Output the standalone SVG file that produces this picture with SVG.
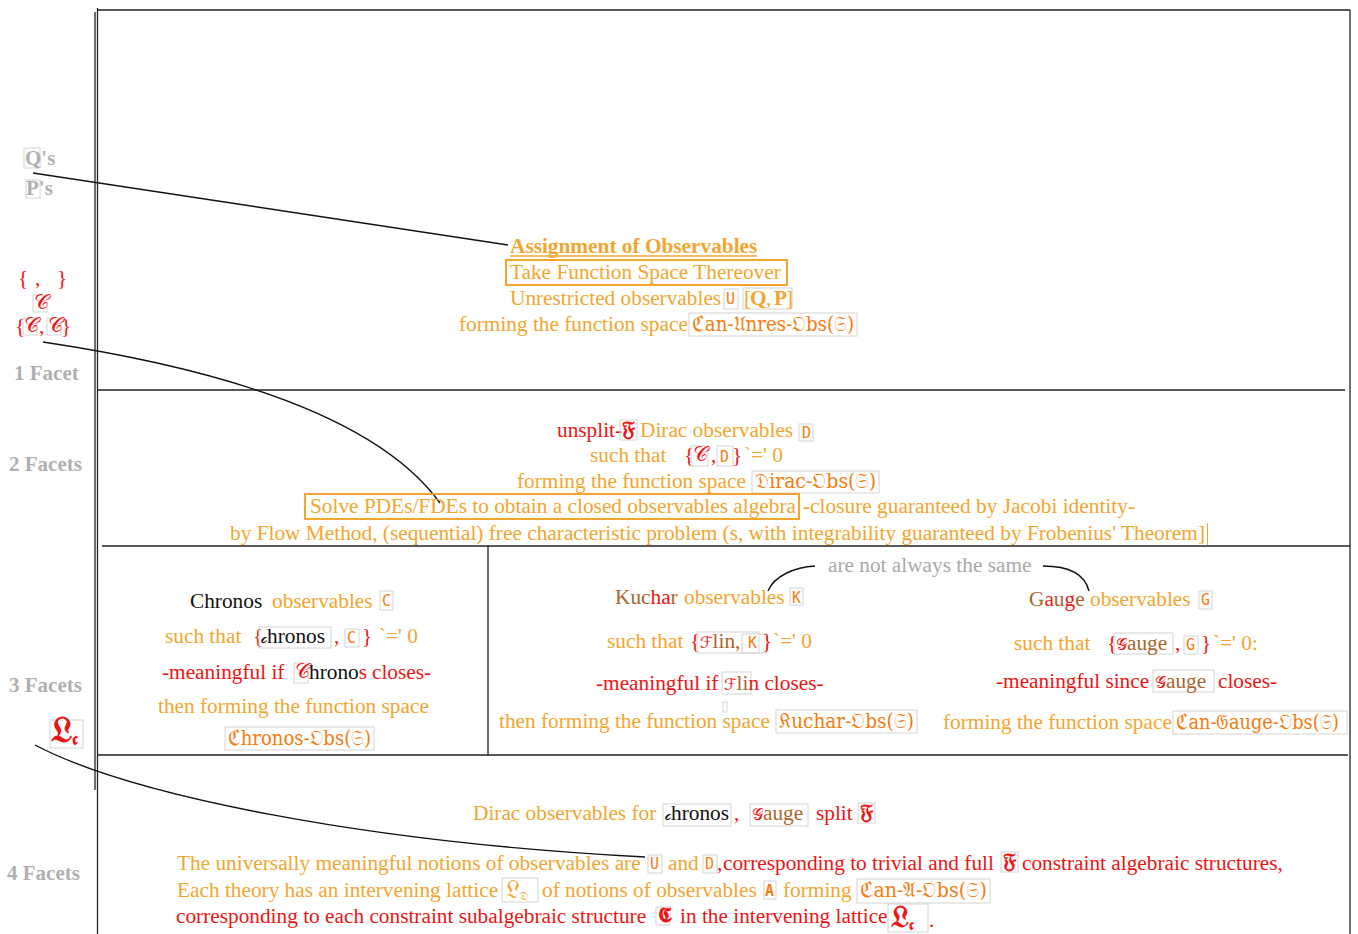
<svg xmlns="http://www.w3.org/2000/svg" width="1358" height="934" viewBox="0 0 1358 934">
<style>
text{font-family:"Liberation Serif","Times New Roman",serif;font-size:21.3px}
.o{fill:#f2a630}.r{fill:#ee1414}.k{fill:#111}.br{fill:#a8662c}.d{fill:#f47c10}.g{fill:#aaa}.gl{fill:#a9a9a9}
.lab{font-weight:bold;fill:#b0b0b0;font-size:21px}
.m{font-family:"DejaVu Sans Mono","Liberation Mono",monospace;font-size:15px;fill:#f47c10}
.fk{font-family:"DejaVu Serif","DejaVu Sans","Noto Sans",serif}
.bx{fill:none;stroke:#d4d4d4;stroke-width:1}
.obx{fill:none;stroke:#f2a630;stroke-width:2}
.fr{stroke:#222;stroke-width:1.3;fill:none}
.cn{stroke:#111;stroke-width:1.4;fill:none}
</style>
<rect width="1358" height="934" fill="#fff"/>
<g id="frame">
<line class="fr" x1="95" y1="12" x2="95" y2="790" stroke-width="2.2"/>
<line class="fr" x1="97.5" y1="8" x2="97.5" y2="934"/>
<line class="fr" x1="97" y1="10" x2="1350" y2="10"/>
<line class="fr" x1="1350" y1="10" x2="1350" y2="934"/>
<line class="fr" x1="97" y1="390" x2="1345" y2="390"/>
<line class="fr" x1="102" y1="546" x2="1350" y2="546"/>
<line class="fr" x1="488" y1="546" x2="488" y2="755"/>
<line class="fr" x1="97" y1="755" x2="1348" y2="755"/>
</g>
<g id="facet-labels">
<rect class="bx" x="24" y="148" width="16" height="20"/>
<text class="lab" x="25" y="165" font-size="20">Q's</text>
<rect class="bx" x="26" y="180" width="14" height="18"/>
<text class="lab" x="26" y="195" font-size="20">P's</text>
<text class="r" x="18" y="285">{</text><text class="r" x="35" y="285">,</text><text class="r" x="57" y="285">}</text>
<rect class="bx" x="33" y="295" width="14" height="17"/>
<text class="r fk" x="34" y="309" font-size="15">𝒞</text>
<text class="r" x="15" y="333">{</text>
<rect class="bx" x="23" y="318" width="14" height="17"/>
<text class="r fk" x="24" y="332" font-size="15">𝒞</text>
<text class="r" x="39" y="333">,</text>
<rect class="bx" x="47" y="318" width="14" height="17"/>
<text class="r fk" x="48" y="332" font-size="15">𝒞</text>
<text class="r" x="61" y="333">}</text>
<text class="lab" x="14" y="380">1 Facet</text>
<text class="lab" x="9" y="471">2 Facets</text>
<text class="lab" x="9" y="692">3 Facets</text>
<text class="lab" x="7" y="880">4 Facets</text>
<rect class="bx" x="50" y="720" width="33" height="28"/>
<text class="r fk" transform="translate(51,742) scale(1.7)" x="0" y="0" font-size="16" font-weight="bold">𝔏<tspan font-size="10" dy="2">𝖈</tspan></text>
</g>
<g id="connectors">
<line class="cn" x1="33" y1="173" x2="508" y2="245"/>
<path class="cn" d="M43,342 C230,370 380,420 440,503"/>
<path class="cn" d="M35,745 C130,795 360,842 645,857"/>
<path class="cn" d="M768,591 C774,576 795,567 815,566"/>
<path class="cn" d="M1043,566 C1070,566 1085,575 1089,591"/>
</g>
<g id="facet1">
<text class="o" x="510" y="253" font-weight="bold">Assignment of Observables</text>
<line x1="510" y1="256" x2="757" y2="256" stroke="#f2a630" stroke-width="1.5"/>
<rect class="obx" x="506" y="260" width="281" height="25"/>
<text class="o" x="510" y="279">Take Function Space Thereover</text>
<text class="o" x="510" y="305">Unrestricted observables</text>
<rect class="bx" x="724" y="289" width="14" height="20"/>
<text class="m" x="726" y="304">U</text>
<rect class="bx" x="743" y="288" width="49" height="21"/>
<text class="o" x="744" y="305">[</text>
<text class="o" x="750" y="305" font-family="Liberation Sans,Arial,sans-serif" font-weight="bold" font-size="18">Q</text>
<text class="o" x="766" y="305">,</text>
<text class="o" x="774" y="305" font-family="Liberation Sans,Arial,sans-serif" font-weight="bold" font-size="18">P</text>
<text class="o" x="786" y="305">]</text>
<text class="o" x="459" y="331">forming the function space</text>
<rect class="bx" x="689" y="313" width="168" height="23"/>
<text class="d fk" x="692" y="331" font-size="18" textLength="162" lengthAdjust="spacingAndGlyphs">ℭan-𝔘nres-𝔒bs(𝔖)</text>
</g>
<g id="facet2">
<text class="r" x="557" y="437">unsplit-</text>
<rect class="bx" x="620" y="420" width="17" height="20"/>
<text class="r fk" x="622" y="436" font-size="16" font-weight="bold">𝔉</text>
<text class="o" x="640" y="437">Dirac observables</text>
<rect class="bx" x="799" y="424" width="14" height="17"/>
<text class="m" x="802" y="438">D</text>
<text class="o" x="590" y="462">such that</text>
<text class="r" x="684" y="462">{</text>
<rect class="bx" x="691" y="446" width="17" height="20"/>
<text class="r fk" x="693" y="461" font-size="15">𝒞</text>
<text class="r" x="711" y="462">,</text>
<rect class="bx" x="717" y="446" width="16" height="20"/>
<text class="m" x="720" y="462">D</text>
<text class="r" x="732" y="462">}</text>
<text class="o" x="744" y="462">`=' 0</text>
<text class="o" x="517" y="488">forming the function space</text>
<rect class="bx" x="752" y="471" width="127" height="22"/>
<text class="d fk" x="755" y="488" font-size="18" textLength="121" lengthAdjust="spacingAndGlyphs">𝔇irac-𝔒bs(𝔖)</text>
<rect class="obx" x="305" y="494" width="494" height="25"/>
<text class="o" x="310" y="513" textLength="486" lengthAdjust="spacingAndGlyphs">Solve PDEs/FDEs to obtain a closed observables algebra</text>
<text class="o" x="803" y="513" textLength="332" lengthAdjust="spacingAndGlyphs">-closure guaranteed by Jacobi identity-</text>
<text class="o" x="230" y="540" textLength="975" lengthAdjust="spacingAndGlyphs">by Flow Method, (sequential) free characteristic problem (s, with integrability guaranteed by Frobenius' Theorem]</text>
<line x1="1207.5" y1="523" x2="1207.5" y2="545" stroke="#f2a630" stroke-width="1"/>
</g>
<g id="chronos">
<text class="k" x="190" y="608">Chronos</text>
<text class="o" x="272" y="608">observables</text>
<rect class="bx" x="380" y="591" width="13" height="19"/>
<text class="m" x="382" y="606">C</text>
<text class="o" x="165" y="643">such that</text>
<text class="r" x="253" y="643">{</text>
<rect class="bx" x="259" y="627" width="72" height="21"/>
<text class="k" x="261" y="643"><tspan class="fk" font-size="16">𝒸</tspan>hronos</text>
<text class="r" x="334" y="643">,</text>
<rect class="bx" x="345" y="629" width="14" height="18"/>
<text class="m" x="347" y="643">C</text>
<text class="r" x="362" y="643">}</text>
<text class="o" x="379" y="643">`=' 0</text>
<text class="r" x="162" y="679">-meaningful if</text>
<rect class="bx" x="294" y="663" width="14" height="20"/>
<text class="r fk" x="295" y="678" font-size="15">𝒞</text>
<text class="k" x="309" y="679" font-size="18.5">hrono<tspan class="r">s</tspan></text>
<text class="r" x="372" y="679">closes-</text>
<text class="o" x="158" y="713">then forming the function space</text>
<rect class="bx" x="225" y="727" width="149" height="23"/>
<text class="d fk" x="228" y="745" font-size="18" textLength="143" lengthAdjust="spacingAndGlyphs">ℭhronos-𝔒bs(𝔖)</text>
</g>
<g id="kuchar">
<text class="br" x="615" y="604">Kuc<tspan class="r">ha</tspan>r</text>
<text class="o" x="684" y="604">observables</text>
<rect class="bx" x="790" y="588" width="13" height="17"/>
<text class="m" x="792" y="603">K</text>
<text class="o" x="607" y="648">such that</text>
<text class="r" x="690" y="648">{</text>
<rect class="bx" x="697" y="632" width="62" height="21"/>
<text class="br" x="700" y="648"><tspan class="r fk" font-size="16">ℱ</tspan>lin,</text>
<rect class="bx" x="742" y="634" width="25" height="19"/>
<text class="m" x="748" y="648">K</text>
<text class="r" x="762" y="648">}</text>
<text class="o" x="773" y="648">`=' 0</text>
<text class="r" x="596" y="690">-meaningful if</text>
<rect class="bx" x="722" y="672" width="29" height="22"/>
<text class="r" x="724" y="690"><tspan class="fk" font-size="16">ℱ</tspan><tspan class="br">li</tspan>n closes-</text>
<rect class="bx" x="723" y="702" width="4" height="10"/>
<text class="o" x="499" y="728">then forming the function space</text>
<rect class="bx" x="776" y="710" width="141" height="23"/>
<text class="d fk" x="779" y="728" font-size="18" textLength="135" lengthAdjust="spacingAndGlyphs">𝔎uchar-𝔒bs(𝔖)</text>
</g>
<text class="gl" x="828" y="572" font-size="20">are not always the same</text>
<g id="gauge">
<text class="br" x="1029" y="606">G<tspan class="r">a</tspan>u<tspan class="r">g</tspan>e</text>
<text class="o" x="1090" y="606">observables</text>
<rect class="bx" x="1199" y="591" width="13" height="18"/>
<text class="m" x="1201" y="605">G</text>
<text class="o" x="1014" y="650">such that</text>
<text class="r" x="1107" y="650">{</text>
<rect class="bx" x="1114" y="633" width="59" height="21"/>
<text class="br" x="1116" y="650"><tspan class="r fk" font-size="16">𝒢</tspan>auge</text>
<text class="r" x="1175" y="650">,</text>
<rect class="bx" x="1184" y="636" width="14" height="18"/>
<text class="m" x="1186" y="650">G</text>
<text class="r" x="1201" y="650">}</text>
<text class="o" x="1213" y="650">`=' 0:</text>
<text class="r" x="996" y="688">-meaningful since</text>
<rect class="bx" x="1153" y="670" width="61" height="22"/>
<text class="br" x="1155" y="688"><tspan class="r fk" font-size="16">𝒢</tspan>auge</text>
<text class="r" x="1218" y="688">closes-</text>
<text class="o" x="943" y="729">forming the function space</text>
<rect class="bx" x="1173" y="711" width="174" height="23"/>
<text class="d fk" x="1176" y="729" font-size="13" textLength="163" lengthAdjust="spacingAndGlyphs">ℭan-𝔊auge-𝔒bs(𝔖)</text>
</g>
<g id="facet4">
<text class="o" x="473" y="820">Dirac observables for</text>
<rect class="bx" x="663" y="804" width="68" height="22"/>
<text class="k" x="665" y="820"><tspan class="fk" font-size="16">𝒸</tspan>hronos</text>
<text class="r" x="734" y="820">,</text>
<rect class="bx" x="750" y="804" width="58" height="22"/>
<text class="br" x="752" y="820"><tspan class="r fk" font-size="16">𝒢</tspan>auge</text>
<text class="r" x="816" y="820">split</text>
<rect class="bx" x="858" y="803" width="17" height="20"/>
<text class="r fk" x="860" y="819" font-size="16" font-weight="bold">𝔉</text>
<text class="o" x="177" y="870">The universally meaningful notions of observables are</text>
<rect class="bx" x="648" y="855" width="14" height="18"/>
<text class="m" x="650" y="869">U</text>
<text class="o" x="668" y="870">and</text>
<rect class="bx" x="703" y="855" width="14" height="18"/>
<text class="m" x="705" y="869">D</text>
<text class="r" x="717" y="870">,</text>
<text class="r" x="723" y="870">corresponding to trivial and full</text>
<rect class="bx" x="1001" y="852" width="17" height="20"/>
<text class="r fk" x="1003" y="868" font-size="16" font-weight="bold">𝔉</text>
<text class="r" x="1022" y="870">constraint algebraic structures,</text>
<text class="o" x="177" y="897">Each theory has an intervening lattice</text>
<rect class="bx" x="502" y="878" width="36" height="24"/>
<text class="o fk" transform="translate(505,898) scale(1.2)" x="0" y="0" font-size="16">𝔏<tspan font-size="9" dy="2">𝔇</tspan></text>
<text class="o" x="542" y="897">of notions of observables</text>
<rect class="bx" x="764" y="881" width="12" height="18"/>
<text class="m" x="765" y="896" font-weight="bold">A</text>
<text class="o" x="783" y="897">forming</text>
<rect class="bx" x="857" y="879" width="133" height="24"/>
<text class="d fk" x="860" y="897" font-size="18" textLength="127" lengthAdjust="spacingAndGlyphs">ℭan-𝔄-𝔒bs(𝔖)</text>
<text class="r" x="176" y="923">corresponding to each constraint subalgebraic structure</text>
<rect class="bx" x="656" y="907" width="14" height="18"/>
<text class="r fk" x="658" y="922" font-size="14" font-weight="bold">𝕮</text>
<text class="r" x="680" y="923">in the intervening lattice</text>
<rect class="bx" x="888" y="904" width="40" height="28"/>
<text class="r fk" transform="translate(891,927) scale(1.4)" x="0" y="0" font-size="16" font-weight="bold">𝔏<tspan font-size="10" dy="2">𝖈</tspan></text>
<text class="r" x="929" y="927">.</text>
</g>
</svg>
